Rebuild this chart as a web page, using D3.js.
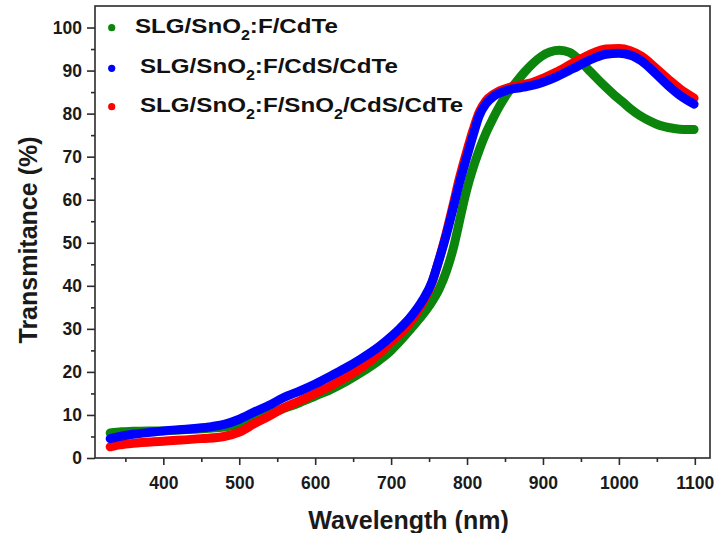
<!DOCTYPE html>
<html>
<head>
<meta charset="utf-8">
<script src="https://cdn.jsdelivr.net/npm/d3@7/dist/d3.min.js"></script>
<style>
  html, body { margin: 0; padding: 0; background: #fff; }
  svg { display: block; font-family: "Liberation Sans", Arial, sans-serif; }
</style>
</head>
<body>
<svg id="chart" width="719" height="533"></svg>
<script>
// ---- Data ----
const seriesNames = ["SLG/SnO2:F/CdTe", "SLG/SnO2:F/CdS/CdTe", "SLG/SnO2:F/SnO2/CdS/CdTe"];
const seriesColors = ["#0b850b", "#0000ff", "#ff0000"];

const greenWl = [330,345,360,380,400,430,460,480,500,520,540,560,580,600,620,640,660,685,700,711,725,737,750,764,773,782,790,797,803,810,817,825,834,843,854,865,876,887,898,909,922,935,947,961,972,983,994,1005,1016,1027,1038,1049,1060,1071,1085,1099];
const greenT  = [5.8,6.1,6.2,6.3,6.3,6.6,6.9,7.2,7.8,9.0,10.3,11.6,12.9,14.4,15.9,17.7,19.8,22.8,25.0,27.0,29.8,32.3,35.3,39.5,43.5,48.8,55.0,60.5,64.5,68.5,72.0,75.5,78.8,81.8,84.9,87.4,89.7,91.7,93.3,94.3,94.7,94.2,92.6,90.0,88.0,86.1,84.3,82.7,81.0,79.6,78.5,77.6,77.0,76.6,76.3,76.3];

const blueWl = [330,340,360,380,400,430,460,480,500,520,540,558,580,600,620,640,660,685,700,711,725,742,754,761,773,782,790,799,808,816,825,835,843,856,870,887,900,917,939,960,983,1000,1015,1030,1049,1065,1080,1099];
const blueT  = [4.5,4.9,5.5,5.9,6.3,6.7,7.2,7.8,9.0,10.7,12.3,14.0,15.6,17.2,19.0,20.9,23.0,26.0,28.2,30.0,32.6,36.8,41.0,44.8,52.0,58.2,63.9,69.5,75.0,79.5,82.3,84.0,84.8,85.6,86.0,86.6,87.3,88.5,90.4,92.3,93.8,94.0,93.6,92.2,89.2,86.5,84.3,82.2];

const redWl = [330,340,360,400,450,480,500,520,540,558,580,600,620,640,660,685,700,720,742,754,761,773,782,790,799,808,816,825,835,843,856,870,887,900,917,939,960,983,1000,1015,1030,1049,1065,1080,1099];
const redT  = [2.6,3.0,3.4,3.9,4.5,5.0,6.0,8.0,9.8,11.6,13.3,15.0,16.7,18.7,20.9,24.4,27.0,30.3,36.2,40.8,44.8,52.5,59.0,65.0,70.8,76.2,80.3,83.0,84.5,85.3,86.1,86.6,87.3,88.2,89.6,91.7,93.6,95.0,95.1,94.6,93.3,90.5,88.0,85.8,83.6];

const xTicks = [400,500,600,700,800,900,1000,1100];
const xMinorTicks = [350,450,550,650,750,850,950,1050];
const yTicks = [0,10,20,30,40,50,60,70,80,90,100];
const yMinorTicks = [5,15,25,35,45,55,65,75,85,95];
const xTitle = "Wavelength (nm)";
const yTitle = "Transmitance (%)";

// ---- Layout ----
const svg = d3.select("#chart");
const L = 95, R = 710, T = 6, B = 458;
const x = d3.scaleLinear().domain([310, 1120]).range([L, R]);
const y = d3.scaleLinear().domain([0, 105]).range([B, T]);

const series = [
  { wl: greenWl, t: greenT },
  { wl: blueWl, t: blueT },
  { wl: redWl, t: redT }
];

// Draw order: green, red, blue
const drawOrder = [0, 2, 1];
const line = d3.line().x(d => x(d[0])).y(d => y(d[1])).curve(d3.curveMonotoneX);
const plot = svg.append("g");
drawOrder.forEach(i => {
  const pts = series[i].wl.map((w, k) => [w, series[i].t[k]]);
  plot.append("path")
    .attr("d", line(pts))
    .attr("fill", "none")
    .attr("stroke", seriesColors[i])
    .attr("stroke-width", 9)
    .attr("stroke-linecap", "round")
    .attr("stroke-linejoin", "round");
});

// Frame
svg.append("rect")
  .attr("x", L).attr("y", T).attr("width", R - L).attr("height", B - T)
  .attr("fill", "none").attr("stroke", "#2b2b2b").attr("stroke-width", 1.6);

// Axes
const axisColor = "#2b2b2b";
const xAxis = svg.append("g").attr("transform", `translate(0,${B})`)
  .call(d3.axisBottom(x).tickValues(xTicks).tickSize(7).tickPadding(8).tickFormat(d3.format("d")));
const xMinor = svg.append("g").attr("transform", `translate(0,${B})`)
  .call(d3.axisBottom(x).tickValues(xMinorTicks).tickSize(4).tickFormat(""));
const yAxis = svg.append("g").attr("transform", `translate(${L},0)`)
  .call(d3.axisLeft(y).tickValues(yTicks).tickSize(8).tickPadding(5).tickFormat(d3.format("d")));
const yMinor = svg.append("g").attr("transform", `translate(${L},0)`)
  .call(d3.axisLeft(y).tickValues(yMinorTicks).tickSize(4).tickFormat(""));

[xAxis, xMinor, yAxis, yMinor].forEach(g => {
  g.select(".domain").remove();
  g.selectAll(".tick line").attr("stroke", axisColor).attr("stroke-width", 1.6);
  g.selectAll(".tick text")
    .attr("fill", "#1a1a1a")
    .attr("font-size", 17.5)
    .attr("font-weight", "bold")
    .attr("font-family", "'Liberation Sans', Arial, sans-serif");
});
xAxis.selectAll(".tick text").attr("dy", "0.9em");

// Axis titles
svg.append("text")
  .attr("x", (L + R) / 2 + 6).attr("y", 529)
  .attr("text-anchor", "middle")
  .attr("font-size", 25).attr("font-weight", "bold").attr("fill", "#1a1a1a")
  .text(xTitle);
svg.append("text")
  .attr("transform", `translate(37,240) rotate(-90)`)
  .attr("text-anchor", "middle")
  .attr("font-size", 25).attr("font-weight", "bold").attr("fill", "#1a1a1a")
  .text(yTitle);

// Legend
const legendRows = [
  { dotY: 27.7, textX: 135, baseY: 33.3 },
  { dotY: 68.3, textX: 140, baseY: 73.3 },
  { dotY: 106.7, textX: 140, baseY: 111.7 }
];
const lg = svg.append("g");
seriesNames.forEach((name, i) => {
  const r = legendRows[i];
  lg.append("circle").attr("cx", 111.7).attr("cy", r.dotY).attr("r", 3.6).attr("fill", seriesColors[i]);
  const t = lg.append("text")
    .attr("transform", `translate(${r.textX},${r.baseY}) scale(1.15,1)`)
    .attr("font-size", 21).attr("font-weight", "bold").attr("fill", "#111");
  // render "SnO2" with a subscript 2
  const parts = name.split(/(SnO2)/).filter(s => s.length);
  let pendingUp = 0;
  parts.forEach(p => {
    if (p === "SnO2") {
      t.append("tspan").attr("dy", pendingUp).text("SnO");
      t.append("tspan").attr("font-size", 14).attr("dy", 7).text("2");
      pendingUp = -7;
    } else {
      t.append("tspan").attr("dy", pendingUp).text(p);
      pendingUp = 0;
    }
  });
});
</script>
</body>
</html>
